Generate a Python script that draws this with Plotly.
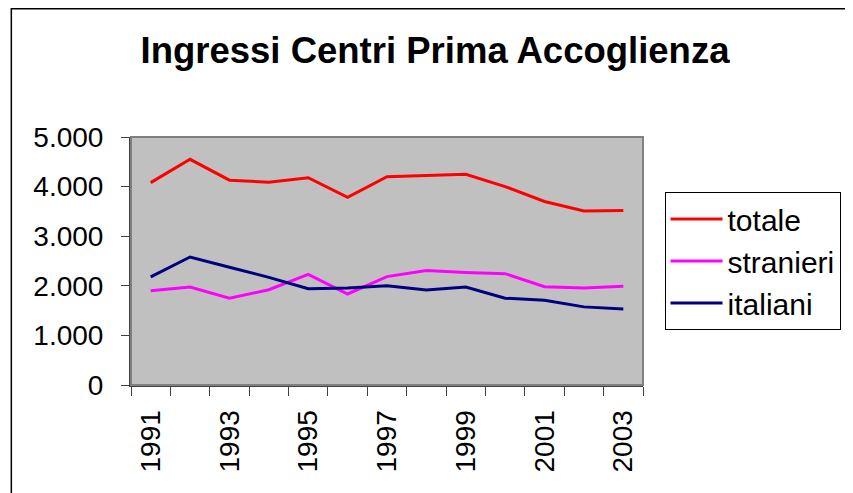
import plotly.graph_objects as go

years = [1991, 1992, 1993, 1994, 1995, 1996, 1997, 1998, 1999, 2000, 2001, 2002, 2003]
totale = [4080, 4550, 4130, 4090, 4180, 3785, 4200, 4230, 4250, 4000, 3700, 3510, 3520]
stranieri = [1900, 1975, 1750, 1920, 2230, 1835, 2185, 2310, 2270, 2245, 1980, 1955, 1990]
italiani = [2180, 2580, 2375, 2170, 1940, 1955, 2000, 1915, 1975, 1750, 1710, 1575, 1530]
tick_years = [1991, 1993, 1995, 1997, 1999, 2001, 2003]
tick_labels = [str(y) for y in tick_years]

FONT = "Liberation Sans, Arial, sans-serif"

fig = go.Figure()
fig.add_trace(go.Scatter(x=years, y=totale, mode="lines", name="totale",
                         line=dict(color="#FF0000", width=3)))
fig.add_trace(go.Scatter(x=years, y=stranieri, mode="lines", name="stranieri",
                         line=dict(color="#FF00FF", width=3)))
fig.add_trace(go.Scatter(x=years, y=italiani, mode="lines", name="italiani",
                         line=dict(color="#000080", width=3)))

# page has an 8px body margin; figure coordinates = page coordinates - 8
OFF = 8
W, H = 853 - OFF, 493 - OFF
L, R, T, B = 131 - OFF, 654 - OFF, 137 - OFF, 385 - OFF

def px_x(p):
    return (p - L) / (R - L)

def px_y(p):
    return (B - p) / (B - T)

fig.update_layout(
    width=W, height=H,
    margin=dict(l=L, r=W - R, t=T, b=H - B),
    paper_bgcolor="white",
    plot_bgcolor="#C0C0C0",
    separators=",.",
    font=dict(family=FONT, color="black", size=28),
    title=dict(text="Ingressi Centri Prima Accoglienza",
               font=dict(family=FONT, size=36.5, color="black", weight="bold"),
               x=(435 - OFF) / W, xanchor="center", xref="container",
               y=1 - (50 - OFF) / H, yanchor="middle", yref="container"),
    showlegend=True,
    legend=dict(x=px_x(676 - OFF), xanchor="left", y=px_y(192 - OFF), yanchor="top",
                bordercolor="black", borderwidth=1, bgcolor="white",
                itemwidth=52,
                font=dict(family=FONT, size=30, color="black"),
                tracegroupgap=0),
    xaxis=dict(range=[1990.5, 2003.5], tickmode="array", tickvals=tick_years,
               ticktext=tick_labels, tickangle=-90, ticks="",
               ticklabelstandoff=12,
               showgrid=False, zeroline=False, showline=True,
               linecolor="#404040", linewidth=2,
               minor=dict(tickmode="linear", tick0=1990.5, dtick=1,
                          ticks="outside", ticklen=9, tickcolor="#404040",
                          tickwidth=1, showgrid=False),
               tickfont=dict(family=FONT, size=28, color="black")),
    yaxis=dict(range=[0, 5000], tickmode="linear", tick0=0, dtick=1000,
               tickformat=",d", ticks="outside", ticklen=8, tickcolor="#404040",
               ticklabelstandoff=12,
               showgrid=False, zeroline=False, showline=True,
               linecolor="#404040", linewidth=2,
               tickfont=dict(family=FONT, size=28, color="black")),
    shapes=[
        dict(type="rect", xref="paper", yref="paper", x0=0, x1=1, y0=0, y1=1,
             line=dict(color="#808080", width=2), layer="above"),
        dict(type="rect", xref="paper", yref="paper",
             x0=px_x(0.75), x1=px_x(W + 10), y0=px_y(0.75), y1=px_y(H + 20),
             line=dict(color="black", width=1.5), layer="below"),
    ],
)

fig.write_html("out.html")
